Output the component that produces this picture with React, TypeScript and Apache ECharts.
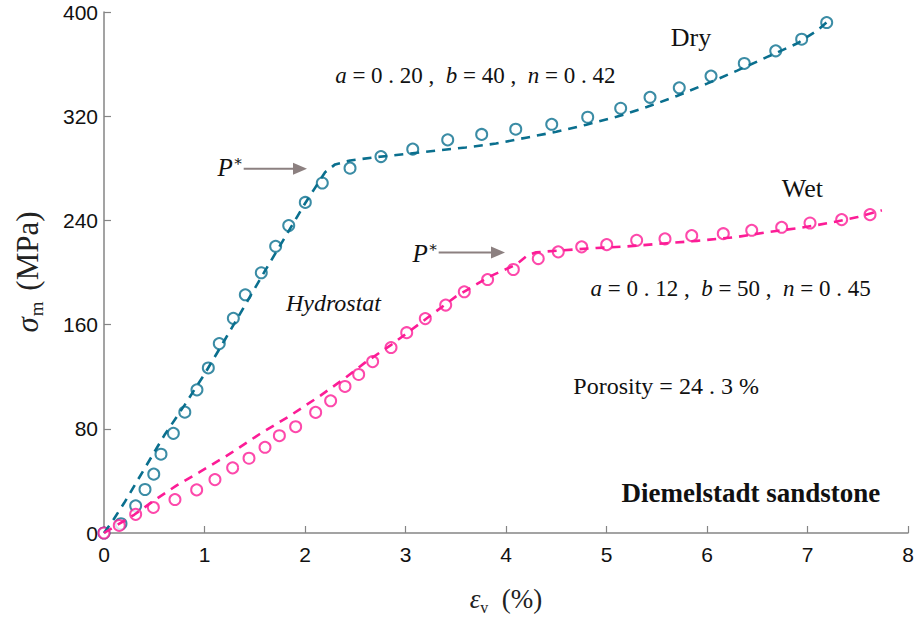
import React, { useEffect, useRef } from "react";
import * as echarts from "echarts";

// Measured data (open circles)
const dryStrain = [0, 0.169, 0.315, 0.408, 0.495, 0.567, 0.69, 0.804, 0.925, 1.038, 1.147, 1.287, 1.406, 1.565, 1.708, 1.838, 2.003, 2.172, 2.448, 2.756, 3.072, 3.42, 3.758, 4.097, 4.455, 4.813, 5.141, 5.433, 5.724, 6.04, 6.371, 6.684, 6.942, 7.191];
const dryStress = [0, 7.1, 20.9, 33.4, 45.2, 60.5, 76.5, 92.8, 109.9, 126.7, 145.4, 164.8, 182.9, 199.8, 220.1, 236.0, 253.8, 268.7, 280.1, 289.0, 294.7, 301.8, 306.0, 310.0, 313.8, 319.2, 326.1, 334.5, 341.8, 350.8, 360.5, 370.2, 379.1, 391.9];

const wetStrain = [0, 0.152, 0.315, 0.491, 0.706, 0.922, 1.104, 1.28, 1.443, 1.602, 1.745, 1.907, 2.106, 2.255, 2.398, 2.534, 2.673, 2.856, 3.012, 3.197, 3.4, 3.585, 3.817, 4.073, 4.321, 4.52, 4.753, 5.002, 5.3, 5.582, 5.848, 6.162, 6.445, 6.743, 7.025, 7.34, 7.622];
const wetStress = [0, 5.8, 14.3, 19.6, 25.7, 33.1, 41.0, 50.0, 57.4, 65.8, 74.7, 81.6, 92.6, 101.5, 112.5, 121.7, 131.6, 142.4, 153.8, 164.6, 175.0, 185.2, 194.6, 202.3, 210.7, 215.8, 219.7, 221.4, 224.7, 225.8, 228.3, 229.8, 232.4, 234.7, 238.0, 240.6, 244.4];

// Model curves (dashed)
const dryFitStrain = [0, 0.1, 0.2, 0.3, 0.4, 0.5, 0.6, 0.8, 1.0, 1.2, 1.4, 1.6, 1.8, 2.0, 2.1, 2.2, 2.3, 2.45, 2.7, 3.0, 3.3, 3.6, 3.9, 4.2, 4.5, 4.8, 5.1, 5.4, 5.7, 6.0, 6.3, 6.6, 6.9, 7.1, 7.22];
const dryFitStress = [0, 11, 23, 36, 49, 62, 75, 98, 122, 148, 174.5, 201, 227, 253, 265, 277, 283, 286, 288.5, 291, 293.5, 296, 299, 303.5, 308, 313.5, 319.5, 327, 335.5, 345, 355, 365.5, 376, 386, 394];

const wetFitStrain = [0, 0.3, 0.5, 0.72, 0.95, 1.25, 1.55, 1.85, 2.15, 2.4, 2.6, 2.85, 3.18, 3.5, 3.84, 4.1, 4.22, 4.3, 4.55, 4.9, 5.2, 5.6, 5.9, 6.3, 6.6, 6.9, 7.1, 7.3, 7.5, 7.74];
const wetFitStress = [0, 14, 25, 36.4, 46.7, 60.7, 76, 90, 105.3, 119, 131, 144, 163, 181.5, 197, 206, 213.5, 215.5, 217, 218.8, 220, 222.5, 224.3, 227.3, 231, 234, 236.5, 239.3, 242.6, 247.7];

const xTicks = [0, 1, 2, 3, 4, 5, 6, 7, 8];
const yTicks = [0, 80, 160, 240, 320, 400];

const DRY = "#0a6f8e";
const WET = "#fc1c96";
const AXIS = "#858585";
const ARROW = "#8c8080";
const SERIF = "'Liberation Serif', 'DejaVu Serif', serif";
const SANS = "'Liberation Sans', Arial, sans-serif";

const zip = (a: number[], b: number[]) => a.map((v, i) => [v, b[i]]);

const measure = (text: string, font: string) => {
  const c = document.createElement("canvas").getContext("2d");
  if (!c) return text.length * 10;
  c.font = font;
  return c.measureText(text).width;
};

export default function App() {
  const ref = useRef<HTMLDivElement>(null);
  useEffect(() => {
    document.body.style.margin = "0";
    if (!ref.current) return;
    const chart = echarts.init(ref.current, null, { renderer: "svg" });
    const nameRich = {
      e: { fontFamily: SERIF, fontSize: 27, fontStyle: "italic", color: "#222" },
      s: { fontFamily: SERIF, fontSize: 16, color: "#222", verticalAlign: "bottom", lineHeight: 32 },
      t: { fontFamily: SERIF, fontSize: 27, color: "#222" },
    };
    const option: any = {
      animation: false,
      grid: { left: 104, right: 9, top: 12, bottom: 86, containLabel: false },
      xAxis: {
        type: "value",
        min: xTicks[0],
        max: xTicks[xTicks.length - 1],
        interval: 1,
        splitLine: { show: false },
        axisLine: { lineStyle: { color: AXIS, width: 1.5 } },
        axisTick: { inside: true, length: 7, lineStyle: { color: AXIS, width: 1.2 } },
        axisLabel: { color: "#111", fontFamily: SANS, fontSize: 21, margin: 11 },
        name: "{e|ε}{s|v}{t|  (%)}",
        nameLocation: "middle",
        nameGap: 50,
        nameTextStyle: { rich: nameRich },
      },
      yAxis: {
        type: "value",
        min: yTicks[0],
        max: yTicks[yTicks.length - 1],
        interval: 80,
        splitLine: { show: false },
        axisLine: { lineStyle: { color: AXIS, width: 1.5 } },
        axisTick: { inside: true, length: 7, lineStyle: { color: AXIS, width: 1.2 } },
        axisLabel: { color: "#111", fontFamily: SANS, fontSize: 21, margin: 6 },
      },
      series: [
        {
          name: "Dry data",
          type: "scatter",
          data: zip(dryStrain, dryStress),
          symbol: "emptyCircle",
          symbolSize: 11,
          itemStyle: { color: DRY, borderColor: DRY, borderWidth: 1.8 },
          z: 2,
        },
        {
          name: "Wet data",
          type: "scatter",
          data: zip(wetStrain, wetStress),
          symbol: "emptyCircle",
          symbolSize: 11,
          itemStyle: { color: WET, borderColor: WET, borderWidth: 1.8 },
          z: 2,
        },
        {
          name: "Dry fit",
          type: "line",
          data: zip(dryFitStrain, dryFitStress),
          showSymbol: false,
          symbol: "none",
          lineStyle: { color: DRY, width: 2.6, type: [9, 7] },
          z: 3,
        },
        {
          name: "Wet fit",
          type: "line",
          data: zip(wetFitStrain, wetFitStress),
          showSymbol: false,
          symbol: "none",
          lineStyle: { color: WET, width: 2.6, type: [9, 7] },
          z: 3,
        },
      ],
    };
    chart.setOption(option);

    const p = (x: number, y: number) => chart.convertToPixel({ gridIndex: 0 }, [x, y]) as number[];
    const arrow = (x0: number, x1: number, y: number) => {
      const a = p(x0, y);
      const b = p(x1, y);
      return [
        { type: "line", shape: { x1: a[0], y1: a[1], x2: b[0] - 10, y2: b[1] }, style: { stroke: ARROW, lineWidth: 2 } },
        {
          type: "polygon",
          shape: { points: [[b[0], b[1]], [b[0] - 14, b[1] - 6], [b[0] - 14, b[1] + 6]] },
          style: { fill: ARROW },
        },
      ];
    };
    const pstar = (x: number, y: number) => {
      const a = p(x, y);
      return [
        { type: "text", x: a[0] - 11, y: a[1], style: { text: "P", font: `italic 25px ${SERIF}`, fill: "#111", align: "right", verticalAlign: "middle" } },
        { type: "text", x: a[0] - 11, y: a[1] - 7, style: { text: "∗", font: `15px ${SERIF}`, fill: "#111", align: "left", verticalAlign: "middle" } },
      ];
    };
    const rich = {
      i: { fontFamily: SERIF, fontSize: 23, fontStyle: "italic", fill: "#111" },
      r: { fontFamily: SERIF, fontSize: 23, fill: "#111" },
    };
    const txt = (x: number, y: number, text: string, font: string, align = "left") => {
      const a = p(x, y);
      return { type: "text", x: a[0], y: a[1], style: { text, font, fill: "#111", align, verticalAlign: "middle" } };
    };
    const richTxt = (x: number, y: number, text: string) => {
      const a = p(x, y);
      return { type: "text", x: a[0], y: a[1], style: { text, rich, fill: "#111", align: "left", verticalAlign: "middle" } };
    };

    // y-axis title: sigma_m (MPa), vertical, centred on the axis
    const target = 121;
    let fs = 27;
    const totalAt = (f: number) => {
      const fSub = Math.round(f * 0.6);
      return (
        measure("σ", `italic ${f}px Liberation Serif`) +
        measure("m", `${fSub}px Liberation Serif`) +
        f * 0.35 +
        measure("(MPa)", `${f}px Liberation Serif`)
      );
    };
    fs = Math.max(24, Math.min(31, (fs * target) / totalAt(fs)));
    const fSub = Math.round(fs * 0.6);
    const wSig = measure("σ", `italic ${fs}px Liberation Serif`);
    const wSub = measure("m", `${fSub}px Liberation Serif`);
    const gap = fs * 0.35;
    const total = totalAt(fs);
    const x0 = -total / 2;
    const yMid = (p(0, yTicks[0])[1] + p(0, yTicks[yTicks.length - 1])[1]) / 2;
    const yTitle = {
      type: "group",
      x: 27,
      y: yMid,
      rotation: Math.PI / 2,
      children: [
        { type: "text", x: x0, y: 0, style: { text: "σ", font: `italic ${fs}px ${SERIF}`, fill: "#222", align: "left", verticalAlign: "middle" } },
        { type: "text", x: x0 + wSig + 1, y: fs * 0.3, style: { text: "m", font: `${fSub}px ${SERIF}`, fill: "#222", align: "left", verticalAlign: "middle" } },
        { type: "text", x: x0 + wSig + 1 + wSub + gap, y: 0, style: { text: "(MPa)", font: `${fs}px ${SERIF}`, fill: "#222", align: "left", verticalAlign: "middle" } },
      ],
    };

    chart.setOption({
      graphic: [
        yTitle,
        ...arrow(1.39, 2.02, 279.6),
        ...pstar(1.39, 280.5),
        ...arrow(3.33, 3.99, 215.3),
        ...pstar(3.33, 214.5),
        txt(5.84, 380.5, "Dry", `26px ${SERIF}`, "center"),
        txt(6.95, 264.5, "Wet", `26px ${SERIF}`, "center"),
        richTxt(2.3, 351.5, "{i|a}{r| = 0 . 20 ,  }{i|b}{r| = 40 ,  }{i|n}{r| = 0 . 42}"),
        richTxt(4.84, 187.5, "{i|a}{r| = 0 . 12 ,  }{i|b}{r| = 50 ,  }{i|n}{r| = 0 . 45}"),
        txt(1.81, 176.9, "Hydrostat", `italic 24px ${SERIF}`, "left"),
        txt(4.67, 112.9, "Porosity = 24 . 3 %", `24px ${SERIF}`, "left"),
        txt(5.15, 30.8, "Diemelstadt sandstone", `bold 27px ${SERIF}`, "left"),
      ],
    });

    return () => chart.dispose();
  }, []);
  return <div ref={ref} style={{ width: 917, height: 620 }} />;
}
